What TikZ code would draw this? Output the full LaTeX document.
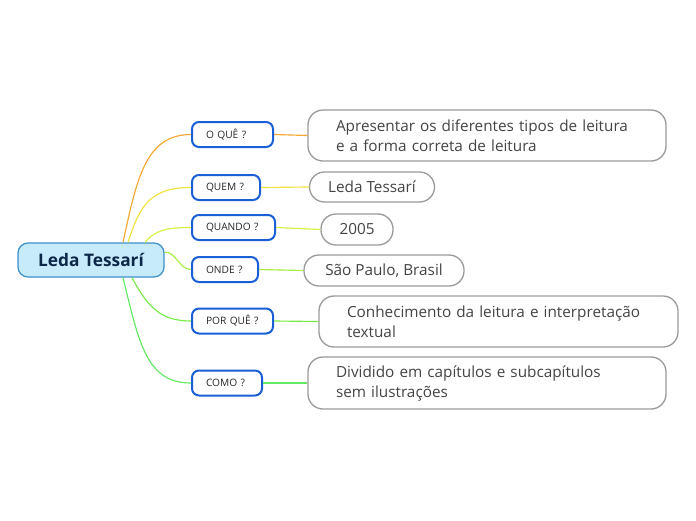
\documentclass[tikz,border=0pt]{standalone}
\usepackage{fontspec}
\setmainfont{Open Sans}
\definecolor{cfill}{HTML}{C8EBFB}
\definecolor{cborder}{HTML}{3B8FCC}
\definecolor{ctext}{HTML}{0D2748}
\definecolor{qborder}{HTML}{1A5FD6}
\definecolor{rborder}{HTML}{9A9A9A}
\definecolor{rtext}{HTML}{444444}
\definecolor{l1}{HTML}{F7A630}
\definecolor{l2}{HTML}{F2E23E}
\definecolor{l3}{HTML}{D6F040}
\definecolor{l4}{HTML}{A6EE40}
\definecolor{l5}{HTML}{78EA48}
\definecolor{l6}{HTML}{62E862}
\tikzset{
  central/.style={draw=cborder, fill=cfill, line width=1.2pt, rounded corners=10pt,
    minimum width=146, minimum height=34, inner sep=0pt, text=ctext,
    font=\fontsize{17.3}{20}\selectfont\bfseries},
  qbox/.style={draw=qborder, fill=white, line width=2pt, rounded corners=7pt,
    minimum height=25, inner ysep=0pt, inner xsep=14pt, text width=#1, align=left, text=black!85,
    font=\fontsize{10.2}{12}\selectfont},
  rbox/.style={draw=rborder, fill=white, line width=1.3pt, rounded corners=15pt,
    inner sep=0pt, text=rtext, align=center,
    font=\fontsize{15.3}{20}\selectfont},
  rtwo/.style={rbox, align=left, inner xsep=28pt, text width=#1},
  conn/.style={line width=1.15pt}
}
\begin{document}
\begin{tikzpicture}[x=1pt,y=-1pt]
\useasboundingbox[fill=white] (0,0) rectangle (696,520);
\node[central] (c) at (91,260) {Leda Tessarí};

\node[qbox=53] (q1) at (232.5,134.5) {O QUÊ ?};
\node[qbox=40] (q2) at (226,187.5) {QUEM ?};
\node[qbox=55] (q3) at (233.5,227.5) {QUANDO ?};
\node[qbox=38] (q4) at (225,269.5) {ONDE ?};
\node[qbox=53] (q5) at (232.5,321) {POR QUÊ ?};
\node[qbox=42] (q6) at (227,383) {COMO ?};

\node[rtwo=302, minimum height=51] (r1) at (487,135.5) {\mbox{Apresentar os diferentes tipos de leitura}\\\mbox{e a forma correta de leitura}};
\node[rbox, minimum width=125, minimum height=30] (r2) at (372,187) {Leda Tessarí};
\node[rbox, minimum width=72, minimum height=31] (r3) at (357,229.5) {2005};
\node[rbox, minimum width=160, minimum height=31] (r4) at (384,270.5) {São Paulo, Brasil};
\node[rtwo=303, minimum height=51] (r5) at (498.5,321.5) {\mbox{Conhecimento da leitura e interpretação}\\\mbox{textual}};
\node[rtwo=302, minimum height=52] (r6) at (487,383) {\mbox{Dividido em capítulos e subcapítulos}\\\mbox{sem ilustrações}};

\draw[conn, l1] ([xshift=32]c.north) .. controls +(14,-65) and +(-45,0) .. (q1.west);
\draw[conn, l2] ([xshift=37]c.north) .. controls +(12,-38) and +(-40,0) .. (q2.west);
\draw[conn, l3] ([xshift=54]c.north) .. controls +(10,-12) and +(-25,0) .. (q3.west);
\draw[conn, l4] ([yshift=8]c.east) .. controls +(12,0) and +(-12,0) .. (q4.west);
\draw[conn, l5] ([xshift=41]c.south) .. controls +(16,30) and +(-30,0) .. (q5.west);
\draw[conn, l6] ([xshift=32]c.south) .. controls +(16,65) and +(-45,0) .. (q6.west);

\draw[conn, l1] (q1.east) -- (r1.west);
\draw[conn, l2] (q2.east) -- (r2.west);
\draw[conn, l3] (q3.east) -- (r3.west);
\draw[conn, l4] (q4.east) -- (r4.west);
\draw[conn, l5] (q5.east) -- (r5.west);
\draw[conn, l6] (q6.east) -- (r6.west);
\end{tikzpicture}
\end{document}
